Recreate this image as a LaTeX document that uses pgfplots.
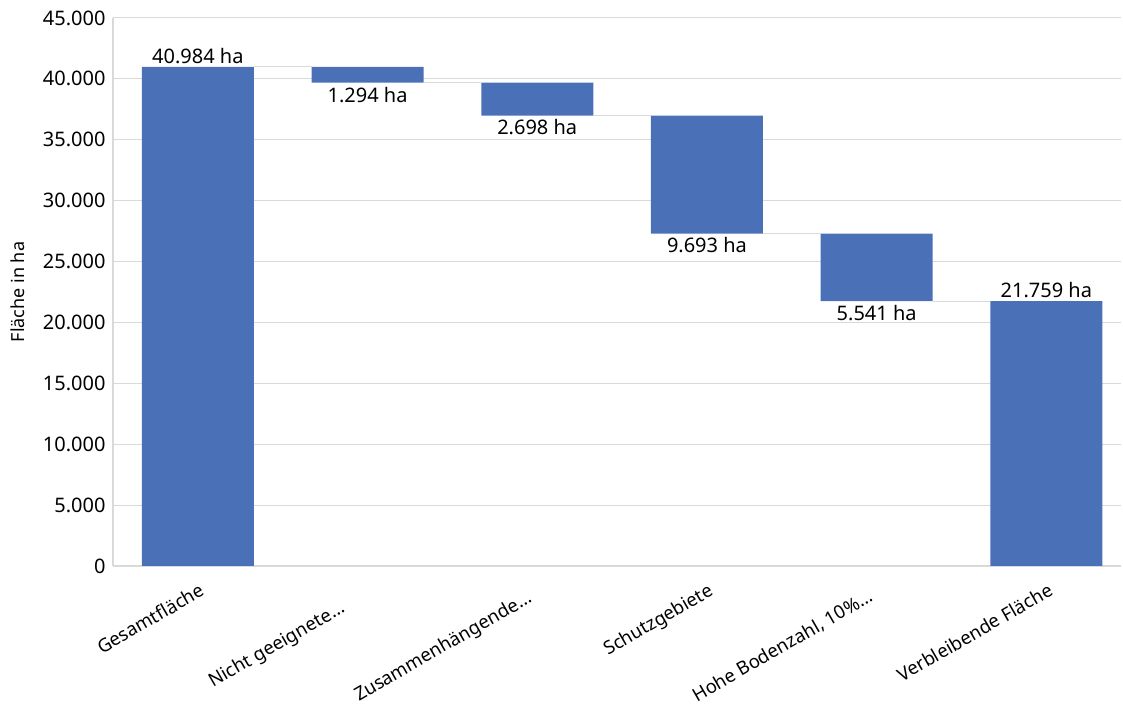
\documentclass[border=0pt]{standalone}
\usepackage{fontspec}
\setmainfont{Noto Sans}
\usepackage{pgfplots}
\pgfplotsset{compat=1.18}
\definecolor{barblue}{HTML}{4A70B7}
\definecolor{gridgray}{HTML}{D9D9D9}
\pgfplotsset{
  common/.style={
    at={(113bp,143bp)}, anchor=south west,
    width=1008bp, height=548bp, scale only axis,
    xmin=-0.5, xmax=5.44, ymin=0, ymax=45000,
  }
}
\begin{document}
\begin{tikzpicture}[x=1bp,y=1bp]
\path[use as bounding box] (0,0) rectangle (1123,709);
\begin{axis}[
  common,
  ybar stacked, bar width=0.66,
  axis x line*=bottom, axis y line*=left,
  axis line style={gridgray, line width=1.2bp, -},
  ymajorgrids, grid style={gridgray, line width=1bp},
  ytick distance=5000, scaled y ticks=false,
  major tick length=0pt,
  xtick={0,...,5},
  xticklabels={Gesamtfläche, {Nicht geeignete…\hspace*{34bp}}, {Zusammenhängende…\hspace*{14bp}}, Schutzgebiete, {Hohe Bodenzahl, 10\%…\hspace*{12bp}}, Verbleibende Fläche},
  x tick label style={rotate=30, anchor=north east, yshift=-11bp, xshift=-4bp, font=\fontsize{18.5bp}{22bp}\selectfont},
  y tick label style={xshift=-4bp, font=\fontsize{20bp}{24bp}\selectfont},
  /pgf/number format/.cd, 1000 sep={.}, assume math mode=true,
  /pgfplots/.cd,
  every axis y label/.style={at={(rel axis cs:0,0.5)}, xshift=-95bp, rotate=90, anchor=center, font=\fontsize{18bp}{22bp}\selectfont},
  ylabel={Fläche in ha},
]
\addplot[draw=none, fill=none] coordinates {(0,0) (1,39690) (2,36992) (3,27299) (4,21758) (5,0)};
\addplot[fill=barblue, draw=none] coordinates {(0,40984) (1,1294) (2,2698) (3,9693) (4,5541) (5,21759)};
\end{axis}
\begin{axis}[
  common, hide axis,
]
\addplot[gridgray, line width=1bp] coordinates {(0.33,40984) (0.67,40984)};
\addplot[gridgray, line width=1bp] coordinates {(1.33,39690) (1.67,39690)};
\addplot[gridgray, line width=1bp] coordinates {(2.33,36992) (2.67,36992)};
\addplot[gridgray, line width=1bp] coordinates {(3.33,27299) (3.67,27299)};
\addplot[gridgray, line width=1bp] coordinates {(4.33,21758) (4.67,21758)};
\addplot[draw=none, mark=none, nodes near coords, point meta=explicit symbolic,
  nodes near coords align={above},
  every node near coord/.append style={font=\fontsize{20bp}{24bp}\selectfont, inner sep=3bp}]
  coordinates {(0,40984) [40.984 ha] (5,21759) [21.759 ha]};
\addplot[draw=none, mark=none, nodes near coords, point meta=explicit symbolic,
  nodes near coords align={below},
  every node near coord/.append style={font=\fontsize{20bp}{24bp}\selectfont, inner sep=4bp}]
  coordinates {(1,39690) [1.294 ha] (2,36992) [2.698 ha] (3,27299) [9.693 ha] (4,21758) [5.541 ha]};
\end{axis}
\end{tikzpicture}
\end{document}
